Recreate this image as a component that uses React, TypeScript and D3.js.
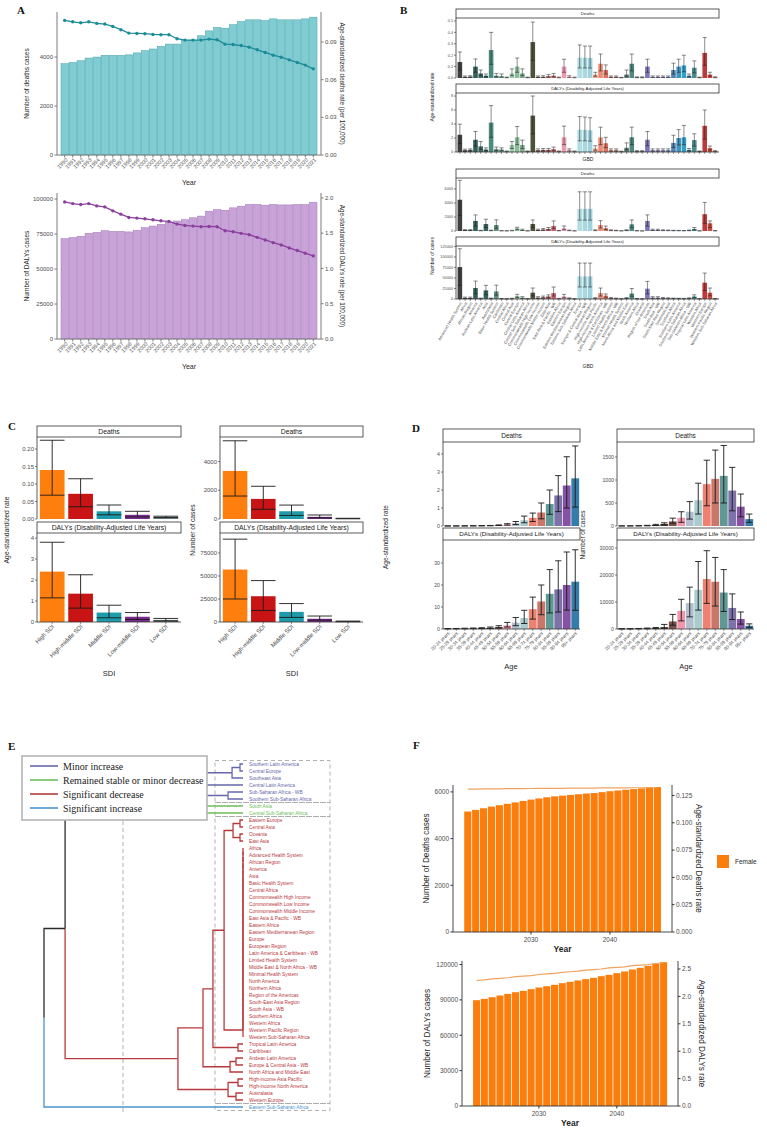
import * as d3 from "d3";

const SANS = "'Liberation Sans', Arial, Helvetica, sans-serif";
const SERIF = "'Liberation Serif', 'Times New Roman', Times, serif";
const TICK = "#4d4d4d";

// ---------- A: trends 1990-2021 ----------
const YEARS_A = [1990, 1991, 1992, 1993, 1994, 1995, 1996, 1997, 1998, 1999, 2000, 2001, 2002, 2003, 2004, 2005,
  2006, 2007, 2008, 2009, 2010, 2011, 2012, 2013, 2014, 2015, 2016, 2017, 2018, 2019, 2020, 2021];
const DEATHS_A = [3730, 3780, 3850, 3960, 4000, 4070, 4070, 4070, 4090, 4170, 4260, 4330, 4440, 4530, 4530, 4670,
  4690, 4870, 5070, 5210, 5180, 5320, 5450, 5520, 5520, 5490, 5560, 5520, 5520, 5520, 5560, 5630];
const DEATH_RATE_A = [0.1072, 0.1061, 0.1053, 0.1061, 0.1048, 0.1043, 0.1024, 0.0998, 0.0971, 0.0968, 0.0966, 0.096,
  0.0958, 0.0958, 0.0926, 0.0915, 0.0915, 0.0915, 0.0923, 0.0918, 0.0883, 0.088, 0.0872, 0.0859, 0.0838, 0.0817,
  0.0795, 0.0779, 0.0758, 0.0737, 0.0716, 0.0686];
const DALYS_A = [71700, 72500, 73400, 75500, 76200, 77400, 76900, 76900, 76500, 77600, 79500, 80700, 81900, 83500,
  84300, 85200, 86600, 87800, 91300, 92500, 92000, 93700, 94900, 96100, 96100, 95600, 96100, 95800, 95800, 96100,
  96100, 97700];
const DALY_RATE_A = [1.944, 1.92, 1.906, 1.92, 1.887, 1.873, 1.817, 1.77, 1.723, 1.714, 1.704, 1.69, 1.676, 1.667,
  1.629, 1.61, 1.601, 1.592, 1.596, 1.592, 1.535, 1.521, 1.498, 1.479, 1.441, 1.404, 1.366, 1.333, 1.291, 1.254,
  1.216, 1.178];

// ---------- B: by GBD region ----------
const B_REGIONS = ["Advanced Health System", "Africa", "African Region", "America", "Andean Latin America", "Asia",
  "Australasia", "Basic Health System", "Caribbean", "Central Africa", "Central Asia", "Central Europe",
  "Central Latin America", "Central Sub-Saharan Africa", "Commonwealth High Income", "Commonwealth Low Income",
  "Commonwealth Middle Income", "East Asia", "East Asia & Pacific - WB", "Eastern Africa", "Eastern Europe",
  "Eastern Mediterranean Region", "Eastern Sub-Saharan Africa", "Europe", "Europe & Central Asia - WB",
  "European Region", "High-income Asia Pacific", "High-income North America", "Latin America & Caribbean - WB",
  "Limited Health System", "Middle East & North Africa - WB", "Minimal Health System", "North Africa and Middle East",
  "North America", "Northern Africa", "Oceania", "Region of the Americas", "South Asia", "South Asia - WB",
  "South-East Asia Region", "Southeast Asia", "Southern Africa", "Southern Latin America",
  "Southern Sub-Saharan Africa", "Sub-Saharan Africa - WB", "Tropical Latin America", "Western Africa",
  "Western Europe", "Western Pacific Region", "Western Sub-Saharan Africa"];
const B_COLORS = ["#2b2b2b", "#3a3a3a", "#3a4a48", "#1f4d48", "#2c5a55", "#24524c", "#3a7d72", "#4c7f70", "#5b8c7a", "#6a9a86",
  "#93c4a2", "#7fb590", "#6fa27f", "#4f5b3e", "#3a3f28", "#6b4a3a", "#8a4a4a", "#a04a4a", "#c0505a", "#d86a80",
  "#e890a8", "#e8a0b5", "#c8dde0", "#a9d9e2", "#9fd3dd", "#96cdd8", "#e89a80", "#e57f68", "#d6654f", "#c46a5a",
  "#a06a60", "#6a6a60", "#4a6e68", "#3f7a72", "#5a6a8a", "#6a68a0", "#6d66aa", "#7a70b0", "#8078b5", "#8a80ba",
  "#6a8ac0", "#3d74a8", "#2f86b5", "#1e96be", "#2a7090", "#3b7d82", "#8a3030", "#b52525", "#c23b2b", "#d04a3a"];
const B_DEATH_RATE = [0.14, 0.01, 0.012, 0.1, 0.04, 0.02, 0.245, 0.02, 0.015, 0.004,
  0.04, 0.1, 0.04, 0.004, 0.315, 0.01, 0.01, 0.015, 0.02, 0.004,
  0.1, 0.01, 0.004, 0.178, 0.178, 0.176, 0.03, 0.125, 0.07, 0.01,
  0.01, 0.003, 0.03, 0.125, 0.005, 0.005, 0.1, 0.01, 0.01, 0.01,
  0.01, 0.07, 0.1, 0.11, 0.02, 0.09, 0.004, 0.22, 0.03, 0.005];
const B_DEATH_RATE_LO = [0.07, 0.005, 0.006, 0.05, 0.02, 0.01, 0.12, 0.01, 0.008, 0.002,
  0.02, 0.05, 0.02, 0.002, 0.155, 0.005, 0.005, 0.008, 0.01, 0.002,
  0.05, 0.005, 0.002, 0.088, 0.088, 0.087, 0.015, 0.062, 0.035, 0.005,
  0.005, 0.0015, 0.015, 0.062, 0.0025, 0.0025, 0.05, 0.005, 0.005, 0.005,
  0.005, 0.035, 0.05, 0.055, 0.01, 0.045, 0.002, 0.11, 0.015, 0.0025];
const B_DEATH_RATE_HI = [0.228, 0.018, 0.02, 0.167, 0.07, 0.035, 0.4, 0.04, 0.035, 0.008,
  0.08, 0.175, 0.08, 0.008, 0.49, 0.018, 0.02, 0.03, 0.04, 0.008,
  0.165, 0.02, 0.008, 0.29, 0.28, 0.28, 0.05, 0.21, 0.115, 0.018,
  0.018, 0.006, 0.07, 0.21, 0.01, 0.01, 0.165, 0.018, 0.018, 0.018,
  0.018, 0.13, 0.165, 0.2, 0.035, 0.15, 0.008, 0.355, 0.05, 0.01];
const B_DALY_RATE = [2.46, 0.25, 0.3, 1.75, 0.8, 0.35, 4.2, 0.4, 0.35, 0.08,
  1.0, 2.1, 1.0, 0.08, 5.2, 0.25, 0.3, 0.3, 0.4, 0.08,
  2.1, 0.25, 0.08, 3.17, 3.17, 3.1, 0.5, 2.08, 1.25, 0.25,
  0.25, 0.06, 0.6, 2.1, 0.1, 0.1, 1.75, 0.25, 0.25, 0.25,
  0.25, 1.3, 2.0, 2.1, 0.3, 1.7, 0.08, 3.74, 0.55, 0.1];
const B_DALY_RATE_LO = [1.2, 0.12, 0.15, 0.85, 0.4, 0.18, 2.1, 0.2, 0.18, 0.04,
  0.5, 1.05, 0.5, 0.04, 2.6, 0.12, 0.15, 0.15, 0.2, 0.04,
  1.05, 0.12, 0.04, 1.6, 1.6, 1.55, 0.25, 1.05, 0.62, 0.12,
  0.12, 0.03, 0.3, 1.05, 0.05, 0.05, 0.88, 0.12, 0.12, 0.12,
  0.12, 0.65, 1.0, 1.05, 0.15, 0.85, 0.04, 1.85, 0.28, 0.05];
const B_DALY_RATE_HI = [3.98, 0.4, 0.45, 2.93, 1.5, 0.6, 6.63, 0.7, 0.6, 0.15,
  1.5, 3.65, 1.7, 0.15, 8.0, 0.45, 0.5, 0.5, 0.7, 0.15,
  3.7, 0.45, 0.15, 5.06, 5.0, 4.9, 0.9, 3.55, 2.1, 0.45,
  0.45, 0.12, 1.3, 3.55, 0.2, 0.2, 2.93, 0.45, 0.45, 0.45,
  0.45, 2.4, 3.2, 3.8, 0.5, 2.6, 0.15, 6.0, 0.85, 0.2];
const B_DEATH_NUM = [4460, 120, 120, 1440, 60, 1000, 70, 850, 30, 20,
  50, 380, 150, 20, 1000, 150, 200, 300, 720, 40,
  380, 80, 20, 3150, 3150, 3150, 100, 860, 400, 100,
  60, 20, 100, 950, 30, 10, 1440, 150, 150, 100,
  80, 60, 50, 40, 80, 300, 20, 2400, 1100, 30];
const B_DEATH_NUM_LO = [2200, 60, 60, 700, 30, 500, 35, 400, 15, 10,
  25, 190, 75, 10, 500, 75, 100, 150, 350, 20,
  190, 40, 10, 1550, 1550, 1550, 50, 430, 200, 50,
  30, 10, 50, 470, 15, 5, 700, 75, 75, 50,
  40, 30, 25, 20, 40, 150, 10, 1100, 500, 15];
const B_DEATH_NUM_HI = [7240, 200, 200, 2300, 100, 1680, 120, 1600, 50, 35,
  90, 530, 260, 35, 1580, 260, 350, 500, 1440, 70,
  720, 140, 35, 5600, 5600, 5600, 170, 1480, 700, 170,
  100, 35, 180, 1580, 50, 20, 2300, 260, 260, 170,
  140, 100, 90, 70, 140, 500, 35, 4080, 1440, 50];
const B_DALY_NUM = [75900, 2500, 2500, 26100, 1200, 20500, 1300, 18000, 600, 400,
  1000, 7000, 3000, 400, 15000, 3000, 4000, 6000, 14200, 800,
  6000, 1600, 400, 53800, 53800, 53800, 1800, 14200, 8000, 2000,
  1200, 400, 2000, 13000, 600, 200, 24500, 3000, 3000, 2000,
  1600, 1200, 1000, 800, 1600, 6000, 400, 38800, 15000, 600];
const B_DALY_NUM_LO = [32400, 1200, 1200, 12600, 600, 10000, 650, 9000, 300, 200,
  500, 3500, 1500, 200, 7500, 1500, 2000, 3000, 7000, 400,
  3000, 800, 200, 28500, 28500, 28500, 900, 7000, 4000, 1000,
  600, 200, 1000, 6500, 300, 100, 12000, 1500, 1500, 1000,
  800, 600, 500, 400, 800, 3000, 200, 20500, 7500, 300];
const B_DALY_NUM_HI = [119500, 4500, 4500, 42700, 2200, 32400, 2300, 33000, 1100, 700,
  1800, 11000, 5500, 700, 26100, 5500, 7000, 10000, 28500, 1500,
  11000, 2800, 700, 85400, 85400, 85400, 3200, 26100, 12000, 3500,
  2200, 700, 3500, 25000, 1100, 400, 41900, 5500, 5500, 3500,
  2800, 2200, 1800, 1500, 2800, 10000, 700, 61700, 26100, 1100];

// ---------- C: by SDI ----------
const C_SDI = ["High SDI", "High-middle SDI", "Middle SDI", "Low-middle SDI", "Low SDI"];
const C_COLORS = ["#ff7f0e", "#c81414", "#1e9baa", "#7a2c8e", "#6f8283"];
const C_DEATH_RATE = [0.14, 0.072, 0.022, 0.012, 0.006];
const C_DEATH_RATE_LO = [0.068, 0.035, 0.012, 0.006, 0.004];
const C_DEATH_RATE_HI = [0.225, 0.115, 0.04, 0.022, 0.008];
const C_DALY_RATE = [2.4, 1.35, 0.45, 0.25, 0.1];
const C_DALY_RATE_LO = [1.15, 0.66, 0.2, 0.12, 0.05];
const C_DALY_RATE_HI = [3.8, 2.25, 0.8, 0.45, 0.17];
const C_DEATH_NUM = [3350, 1400, 540, 150, 30];
const C_DEATH_NUM_LO = [1600, 680, 250, 80, 15];
const C_DEATH_NUM_HI = [5450, 2280, 970, 280, 50];
const C_DALY_NUM = [57000, 28000, 11000, 3500, 600];
const C_DALY_NUM_LO = [25000, 12500, 5000, 2000, 300];
const C_DALY_NUM_HI = [90000, 45000, 20000, 6500, 1000];

// ---------- D: by age ----------
const D_AGES = ["20-24 years", "25-29 years", "30-34 years", "35-39 years", "40-44 years", "45-49 years",
  "50-54 years", "55-59 years", "60-64 years", "65-69 years", "70-74 years", "75-79 years", "80-84 years",
  "85-89 years", "90-94 years", "95+ years"];
const D_COLORS = ["#5a5a5a", "#4a4a4a", "#3a3a3a", "#2a2a2a", "#1e1e1e", "#3b2a24", "#6b3f37", "#f08ca2",
  "#a9b8ca", "#9ec6c9", "#ec735f", "#c4685a", "#4f8d8a", "#6e64a0", "#7a3f9a", "#1f6f9e"];
const D_DEATH_RATE = [0.002, 0.003, 0.005, 0.008, 0.012, 0.02, 0.04, 0.08, 0.15, 0.32, 0.45, 0.75, 1.22, 1.7, 2.25, 2.65];
const D_DEATH_RATE_LO = [0.001, 0.002, 0.003, 0.005, 0.008, 0.012, 0.025, 0.05, 0.08, 0.18, 0.25, 0.4, 0.65, 0.8, 1.0, 1.05];
const D_DEATH_RATE_HI = [0.004, 0.005, 0.008, 0.012, 0.018, 0.03, 0.06, 0.13, 0.25, 0.55, 0.72, 1.28, 2.0, 2.8, 3.85, 4.45];
const D_DALY_RATE = [0.1, 0.15, 0.2, 0.25, 0.35, 0.5, 0.9, 1.6, 2.9, 5.0, 9.0, 12.5, 16, 18, 20, 21.5];
const D_DALY_RATE_LO = [0.05, 0.08, 0.1, 0.15, 0.2, 0.3, 0.5, 0.9, 1.5, 2.5, 4.5, 6.5, 7.3, 7.7, 8.6, 8.5];
const D_DALY_RATE_HI = [0.2, 0.25, 0.35, 0.45, 0.6, 0.9, 1.5, 3.0, 5.2, 8.5, 14.5, 20, 27, 31, 35, 36];
const D_DEATH_NUM = [1, 2, 4, 8, 20, 45, 100, 180, 310, 560, 910, 1025, 1090, 770, 420, 150];
const D_DEATH_NUM_LO = [0.5, 1, 2, 4, 10, 25, 60, 80, 150, 260, 440, 500, 500, 330, 200, 80];
const D_DEATH_NUM_HI = [3, 4, 7, 14, 35, 70, 170, 310, 530, 930, 1430, 1650, 1750, 1275, 695, 260];
const D_DALY_NUM = [50, 80, 120, 200, 300, 700, 2800, 6700, 9600, 14500, 18500, 17500, 13500, 7800, 3700, 1200];
const D_DALY_NUM_LO = [25, 40, 60, 100, 150, 300, 1400, 3000, 4500, 7000, 9500, 8500, 6500, 3500, 1800, 600];
const D_DALY_NUM_HI = [90, 140, 200, 350, 550, 1700, 5400, 11000, 15500, 25000, 29000, 26500, 22000, 13000, 6300, 1900];

// ---------- E: clustering ----------
const E_LEAVES = ["Southern Latin America", "Central Europe", "Southeast Asia", "Central Latin America",
  "Sub-Saharan Africa - WB", "Southern Sub-Saharan Africa", "South Asia", "Central Sub-Saharan Africa",
  "Eastern Europe", "Central Asia", "Oceania", "East Asia", "Africa", "Advanced Health System", "African Region",
  "America", "Asia", "Basic Health System", "Central Africa", "Commonwealth High Income", "Commonwealth Low Income",
  "Commonwealth Middle Income", "East Asia & Pacific - WB", "Eastern Africa", "Eastern Mediterranean Region",
  "Europe", "European Region", "Latin America & Caribbean - WB", "Limited Health System",
  "Middle East & North Africa - WB", "Minimal Health System", "North America", "Northern Africa",
  "Region of the Americas", "South-East Asia Region", "South Asia - WB", "Southern Africa", "Western Africa",
  "Western Pacific Region", "Western Sub-Saharan Africa", "Tropical Latin America", "Caribbean",
  "Andean Latin America", "Europe & Central Asia - WB", "North Africa and Middle East", "High-income Asia Pacific",
  "High-income North America", "Australasia", "Western Europe", "Eastern Sub-Saharan Africa"];
// 0 minor increase, 1 stable / minor decrease, 2 significant decrease, 3 significant increase
const E_GROUP = [0, 0, 0, 0, 0, 0, 1, 1, 2, 2,
  2, 2, 2, 2, 2, 2, 2, 2, 2, 2,
  2, 2, 2, 2, 2, 2, 2, 2, 2, 2,
  2, 2, 2, 2, 2, 2, 2, 2, 2, 2,
  2, 2, 2, 2, 2, 2, 2, 2, 2, 3];
const E_LEGEND = ["Minor increase", "Remained stable or minor decrease", "Significant decrease", "Significant increase"];
const E_COLORS = ["#6667ab", "#6dbe5b", "#b8393d", "#4c93cf"];

type TNode = number | { h: number; c: TNode[] };
// identical profiles merged at height 0, one after another
const E_TIED = d3.range(12, 40).slice(1).reduce<TNode>((acc, id) => ({ h: 0, c: [acc, id] }), 12);
const E_TREE: TNode = {
  h: 10,
  c: [
    {
      h: 8.94,
      c: [
        {
          h: 6.18,
          c: [
            { h: 3.67, c: [{ h: 2.66, c: [{ h: 0.55, c: [{ h: 0.15, c: [0, 1] }, 2] }, 3] }, { h: 0.75, c: [4, 5] }] },
            { h: 3.42, c: [6, 7] },
          ],
        },
        {
          h: 3.27,
          c: [
            {
              h: 2.01,
              c: [
                {
                  h: 1.51,
                  c: [
                    { h: 0.95, c: [{ h: 0.5, c: [{ h: 0.15, c: [8, 9] }, { h: 0.15, c: [10, 11] }] }, E_TIED] },
                    { h: 0.25, c: [40, 41] },
                  ],
                },
                { h: 0.65, c: [{ h: 0.35, c: [42, 43] }, 44] },
              ],
            },
            { h: 0.75, c: [{ h: 0.25, c: [45, 46] }, { h: 0.35, c: [47, 48] }] },
          ],
        },
      ],
    },
    49,
  ],
};

// ---------- F: projections ----------
const F_YEARS = [2022, 2023, 2024, 2025, 2026, 2027, 2028, 2029, 2030, 2031, 2032, 2033, 2034, 2035, 2036, 2037,
  2038, 2039, 2040, 2041, 2042, 2043, 2044, 2045, 2046];
const F_DEATHS = [5160, 5230, 5300, 5370, 5430, 5490, 5550, 5610, 5670, 5720, 5770, 5810, 5840, 5870, 5900, 5930,
  5950, 5990, 6030, 6060, 6090, 6120, 6150, 6180, 6210];
const F_DEATH_RATE = [0.1308, 0.1309, 0.131, 0.1311, 0.1311, 0.1312, 0.1313, 0.1313, 0.1314, 0.1315, 0.1315, 0.1316,
  0.1316, 0.1317, 0.1317, 0.1318, 0.1318, 0.1319, 0.1319, 0.132, 0.132, 0.1321, 0.1321, 0.1322, 0.1322];
const F_DALYS = [89750, 90880, 92300, 93740, 95100, 96540, 97650, 99100, 100500, 101600, 102750, 104200, 105300,
  106500, 107600, 108700, 110100, 111250, 112700, 114100, 115800, 117200, 118900, 120600, 122000];
const F_DALY_RATE = [2.29, 2.3, 2.32, 2.33, 2.34, 2.36, 2.37, 2.38, 2.4, 2.41, 2.42, 2.44, 2.45, 2.46, 2.48, 2.49,
  2.5, 2.52, 2.53, 2.54, 2.56, 2.57, 2.58, 2.6, 2.61];

const fInt = d3.format("d");
const f1 = d3.format(".1f");
const f2 = d3.format(".2f");
const f3 = d3.format(".3f");

function VTitle({ x, y, text, fs, rot = -90, bold = false }: { x: number; y: number; text: string; fs: number; rot?: number; bold?: boolean }) {
  return (
    <text transform={`translate(${x},${y}) rotate(${rot})`} textAnchor="middle" dominantBaseline="middle"
      fontSize={fs} fill="#1f1f1f" fontWeight={bold ? 700 : 400}>
      {text}
    </text>
  );
}

type DualProps = {
  cats: number[]; bars: number[]; rates: number[];
  left: number; right: number; top: number; bottom: number;
  lMax: number; rMax: number; lTicks: number[]; rTicks: number[]; rFmt: (v: number) => string;
  fill: string; stroke: string; lineColor: string; lTitle: string; rTitle: string;
};

function DualPanel(p: DualProps) {
  const x = d3.scaleBand<number>().domain(p.cats).range([p.left + 4, p.right - 4]).paddingInner(0.08);
  const yl = d3.scaleLinear().domain([0, p.lMax]).range([p.bottom, p.top]);
  const yr = d3.scaleLinear().domain([0, p.rMax]).range([p.bottom, p.top]);
  const cx = (c: number) => (x(c) ?? 0) + x.bandwidth() / 2;
  const path = d3.line<number>().x((_, i) => cx(p.cats[i])).y((d) => yr(d))(p.rates) ?? "";
  const mid = (p.top + p.bottom) / 2;
  const ax = "#7a7a7a";
  return (
    <g>
      {p.cats.map((c, i) => (
        <rect key={c} x={x(c)} y={yl(p.bars[i])} width={x.bandwidth()} height={p.bottom - yl(p.bars[i])}
          fill={p.fill} stroke={p.stroke} strokeWidth={0.5} />
      ))}
      <path d={path} fill="none" stroke={p.lineColor} strokeWidth={1.3} />
      {p.rates.map((r, i) => (
        <circle key={i} cx={cx(p.cats[i])} cy={yr(r)} r={1.7} fill={p.lineColor} />
      ))}
      <line x1={p.left} x2={p.left} y1={p.top} y2={p.bottom} stroke={ax} strokeWidth={1} />
      <line x1={p.right} x2={p.right} y1={p.top} y2={p.bottom} stroke={ax} strokeWidth={1} />
      <line x1={p.left} x2={p.right} y1={p.bottom} y2={p.bottom} stroke={ax} strokeWidth={1} />
      {p.lTicks.map((t) => (
        <g key={t}>
          <line x1={p.left - 2.5} x2={p.left} y1={yl(t)} y2={yl(t)} stroke={ax} />
          <text x={p.left - 4} y={yl(t)} dy="0.35em" textAnchor="end" fontSize={6} fill={TICK}>{t}</text>
        </g>
      ))}
      {p.rTicks.map((t) => (
        <g key={t}>
          <line x1={p.right} x2={p.right + 2.5} y1={yr(t)} y2={yr(t)} stroke={ax} />
          <text x={p.right + 4} y={yr(t)} dy="0.35em" textAnchor="start" fontSize={6} fill={TICK}>{p.rFmt(t)}</text>
        </g>
      ))}
      {p.cats.map((c) => (
        <g key={c}>
          <line x1={cx(c)} x2={cx(c)} y1={p.bottom} y2={p.bottom + 2.5} stroke={ax} />
          <text transform={`translate(${cx(c) + 2},${p.bottom + 4}) rotate(-45)`} textAnchor="end" dy="0.35em"
            fontSize={5.5} fill={TICK}>{c}</text>
        </g>
      ))}
      <text x={(p.left + p.right) / 2} y={p.bottom + 30} textAnchor="middle" fontSize={7} fill="#1f1f1f">Year</text>
      <VTitle x={p.left - 30} y={mid} text={p.lTitle} fs={6.5} />
      <VTitle x={p.right + 21} y={mid} text={p.rTitle} fs={6.3} rot={90} />
    </g>
  );
}

type FacetProps = {
  cats: string[]; val: number[]; lo: number[]; hi: number[]; colors: string[];
  left: number; right: number; top: number; stripH: number; bottom: number;
  max: number; ticks: number[]; fmt: (v: number) => string;
  strip: string; fs: number; stripFs: number;
  padIn: number; padOut: number; cap: number; ew: number; opacity?: number;
  xAxis?: boolean; labelAngle?: number; labelFs?: number;
};

function Facet(p: FacetProps) {
  const plotTop = p.top + p.stripH;
  const x = d3.scaleBand<string>().domain(p.cats).range([p.left, p.right]).paddingInner(p.padIn).paddingOuter(p.padOut);
  const y = d3.scaleLinear().domain([0, p.max]).range([p.bottom, plotTop]);
  const bw = x.bandwidth();
  const ax = "#333";
  return (
    <g>
      <rect x={p.left} y={p.top} width={p.right - p.left} height={p.stripH} fill="#fff" stroke="#333" strokeWidth={0.8} />
      <text x={(p.left + p.right) / 2} y={p.top + p.stripH / 2} dy="0.35em" textAnchor="middle" fontSize={p.stripFs}
        fill="#1a1a1a">{p.strip}</text>
      {p.cats.map((c, i) => {
        const x0 = x(c) ?? 0;
        const cx = x0 + bw / 2;
        const cw = (bw * p.cap) / 2;
        const yl = y(p.lo[i]);
        const yh = y(p.hi[i]);
        return (
          <g key={c}>
            <rect x={x0} y={y(p.val[i])} width={bw} height={Math.max(0, p.bottom - y(p.val[i]))} fill={p.colors[i]}
              fillOpacity={p.opacity ?? 1} />
            <path d={`M${cx},${yl}V${yh}M${cx - cw},${yh}H${cx + cw}M${cx - cw},${yl}H${cx + cw}`} stroke="#1a1a1a"
              strokeWidth={p.ew} fill="none" />
          </g>
        );
      })}
      <line x1={p.left} x2={p.left} y1={plotTop} y2={p.bottom} stroke={ax} strokeWidth={0.8} />
      {p.ticks.map((t) => (
        <g key={t}>
          <line x1={p.left - 2} x2={p.left} y1={y(t)} y2={y(t)} stroke={ax} strokeWidth={0.6} />
          <text x={p.left - 3} y={y(t)} dy="0.35em" textAnchor="end" fontSize={p.fs} fill={TICK}>{p.fmt(t)}</text>
        </g>
      ))}
      {p.xAxis && (
        <g>
          <line x1={p.left} x2={p.right} y1={p.bottom} y2={p.bottom} stroke={ax} strokeWidth={0.8} />
          {p.cats.map((c) => {
            const cx = (x(c) ?? 0) + bw / 2;
            return (
              <g key={c}>
                <line x1={cx} x2={cx} y1={p.bottom} y2={p.bottom + 2} stroke={ax} strokeWidth={0.5} />
                {p.labelFs ? (
                  <text transform={`translate(${cx + 1},${p.bottom + 3.5}) rotate(${-(p.labelAngle ?? 45)})`}
                    textAnchor="end" dy="0.35em" fontSize={p.labelFs} fill={TICK}>{c}</text>
                ) : null}
              </g>
            );
          })}
        </g>
      )}
    </g>
  );
}

type FProps = {
  years: number[]; bars: number[]; rates: number[];
  left: number; right: number; top: number; bottom: number;
  lMax: number; rMax: number; lTicks: number[]; rTicks: number[]; rFmt: (v: number) => string;
  lTitle: string; rTitle: string; lTitleX: number; rTitleX: number;
};

function ForecastPanel(p: FProps) {
  const x = d3.scaleLinear().domain([2020.13, 2047.85]).range([p.left, p.right]);
  const yl = d3.scaleLinear().domain([0, p.lMax]).range([p.bottom, p.top]);
  const yr = d3.scaleLinear().domain([0, p.rMax]).range([p.bottom, p.top]);
  const bw = (x(1) - x(0)) * 0.9;
  const path = d3.line<number>().x((_, i) => x(p.years[i])).y((d) => yr(d))(p.rates) ?? "";
  const mid = (p.top + p.bottom) / 2;
  const ax = "#333";
  return (
    <g>
      {p.years.map((yv, i) => (
        <rect key={yv} x={x(yv) - bw / 2} y={yl(p.bars[i])} width={bw} height={p.bottom - yl(p.bars[i])} fill="#fb7d0c" />
      ))}
      <path d={path} fill="none" stroke="#eda35e" strokeWidth={1.2} />
      <line x1={p.left} x2={p.left} y1={p.top} y2={p.bottom} stroke={ax} strokeWidth={0.9} />
      <line x1={p.right} x2={p.right} y1={p.top} y2={p.bottom} stroke={ax} strokeWidth={0.9} />
      <line x1={p.left} x2={p.right} y1={p.bottom} y2={p.bottom} stroke={ax} strokeWidth={0.9} />
      {p.lTicks.map((t) => (
        <g key={t}>
          <line x1={p.left - 2.5} x2={p.left} y1={yl(t)} y2={yl(t)} stroke={ax} />
          <text x={p.left - 4} y={yl(t)} dy="0.35em" textAnchor="end" fontSize={6.5} fill={TICK}>{t}</text>
        </g>
      ))}
      {p.rTicks.map((t) => (
        <g key={t}>
          <line x1={p.right} x2={p.right + 2.5} y1={yr(t)} y2={yr(t)} stroke={ax} />
          <text x={p.right + 4} y={yr(t)} dy="0.35em" textAnchor="start" fontSize={6.5} fill={TICK}>{p.rFmt(t)}</text>
        </g>
      ))}
      {[2030, 2040].map((t) => (
        <g key={t}>
          <line x1={x(t)} x2={x(t)} y1={p.bottom} y2={p.bottom + 2.5} stroke={ax} />
          <text x={x(t)} y={p.bottom + 10} textAnchor="middle" fontSize={6.5} fill={TICK}>{t}</text>
        </g>
      ))}
      <text x={(p.left + p.right) / 2} y={p.bottom + 20} textAnchor="middle" fontSize={8.5} fontWeight={700} fill="#1f1f1f">Year</text>
      <VTitle x={p.lTitleX} y={mid} text={p.lTitle} fs={8.2} />
      <VTitle x={p.rTitleX} y={mid} text={p.rTitle} fs={8.2} rot={90} />
    </g>
  );
}

function Dendrogram() {
  const ys = d3.scaleLinear().domain([0, E_LEAVES.length - 1]).range([764, 1107]);
  const xs = d3.scaleLinear().domain([0, 10]).range([243, 44]);
  const segs: { d: string; col: string }[] = [];
  const walk = (n: TNode): { x: number; y: number; g: number } => {
    if (typeof n === "number") return { x: xs(0), y: ys(n), g: E_GROUP[n] };
    const kids = n.c.map(walk);
    const x = xs(n.h);
    const y = (kids[0].y + kids[kids.length - 1].y) / 2;
    kids.forEach((k) => segs.push({ d: `M${x},${y}V${k.y}H${k.x}`, col: k.g >= 0 ? E_COLORS[k.g] : "#2b2b2b" }));
    const g = kids.every((k) => k.g === kids[0].g) ? kids[0].g : -1;
    return { x, y, g };
  };
  walk(E_TREE);
  const boxes = E_COLORS.map((_, g) => {
    const idx = E_GROUP.map((v, i) => (v === g ? i : -1)).filter((i) => i >= 0);
    return [ys(idx[0]) - 3.5, ys(idx[idx.length - 1]) + 3.5];
  });
  return (
    <g>
      <line x1={123} x2={123} y1={758} y2={1112} stroke="#a8a8a8" strokeWidth={0.9} strokeDasharray="4,3" />
      {boxes.map(([y0, y1], i) => (
        <rect key={i} x={215} y={y0} width={115} height={y1 - y0} fill="none" stroke="#a8a8a8" strokeWidth={0.9}
          strokeDasharray="4,3" />
      ))}
      {segs.map((s, i) => (
        <path key={i} d={s.d} fill="none" stroke={s.col} strokeWidth={1.3} />
      ))}
      {E_LEAVES.map((name, i) => (
        <text key={name} x={249} y={ys(i)} dy="0.35em" fontSize={4.8} fill={E_COLORS[E_GROUP[i]]}>{name}</text>
      ))}
      <rect x={22} y={756} width={185} height={64} fill="#fff" stroke="#b5b5b5" strokeWidth={1.6} />
      {E_LEGEND.map((lab, i) => (
        <g key={lab}>
          <line x1={30} x2={58} y1={766 + i * 14} y2={766 + i * 14} stroke={E_COLORS[i]} strokeWidth={1.6} />
          <text x={63} y={766 + i * 14} dy="0.35em" fontFamily={SERIF} fontSize={10} fill="#222">{lab}</text>
        </g>
      ))}
    </g>
  );
}

export default function App() {
  const DALY_STRIP = "DALYs (Disability-Adjusted Life Years)";
  return (
    <svg width={767} height={1133} style={{ position: "absolute", left: 0, top: 0, background: "#fff" }}
      fontFamily={SANS}>
      <rect width={767} height={1133} fill="#fff" />
      {/* panel letters */}
      {[["A", 17, 14], ["B", 400, 14], ["C", 8, 430], ["D", 412, 432], ["E", 8, 750], ["F", 413, 749]].map(([t, x, y]) => (
        <text key={t as string} x={x as number} y={y as number} fontFamily={SERIF} fontWeight={700} fontSize={11} fill="#111">{t}</text>
      ))}

      {/* A */}
      <DualPanel cats={YEARS_A} bars={DEATHS_A} rates={DEATH_RATE_A} left={57} right={321} top={12} bottom={155}
        lMax={5840} rMax={0.1139} lTicks={[0, 2000, 4000]} rTicks={[0, 0.03, 0.06, 0.09]} rFmt={f2}
        fill="#80ccd3" stroke="#4aa2ab" lineColor="#1b8c98" lTitle="Number of deaths cases"
        rTitle="Age-standardized deaths rate (per 100,000)" />
      <DualPanel cats={YEARS_A} bars={DALYS_A} rates={DALY_RATE_A} left={57} right={321} top={193} bottom={339}
        lMax={104300} rMax={2.07} lTicks={[0, 25000, 50000, 75000, 100000]} rTicks={[0, 0.5, 1, 1.5, 2]} rFmt={f1}
        fill="#c8a2d8" stroke="#a078b4" lineColor="#8a3f9e" lTitle="Number of DALYs cases"
        rTitle="Age-standardized DALYs rate (per 100,000)" />

      {/* B */}
      <Facet cats={B_REGIONS} val={B_DEATH_RATE} lo={B_DEATH_RATE_LO} hi={B_DEATH_RATE_HI} colors={B_COLORS}
        left={456} right={719} top={9} stripH={9} bottom={78} max={0.526} ticks={[0, 0.1, 0.2, 0.3, 0.4, 0.5]} fmt={f1}
        strip="Deaths" fs={3.8} stripFs={4.3} padIn={0.12} padOut={0.3} cap={0.9} ew={0.5} opacity={0.9} />
      <Facet cats={B_REGIONS} val={B_DALY_RATE} lo={B_DALY_RATE_LO} hi={B_DALY_RATE_HI} colors={B_COLORS}
        left={456} right={719} top={84} stripH={9} bottom={152} max={8.43} ticks={[0, 2, 4, 6, 8]} fmt={fInt}
        strip={DALY_STRIP} fs={3.8} stripFs={4.3} padIn={0.12} padOut={0.3} cap={0.9} ew={0.5} opacity={0.9} xAxis />
      <text x={588} y={161} textAnchor="middle" fontSize={5} fill="#1f1f1f">GBD</text>
      <Facet cats={B_REGIONS} val={B_DEATH_NUM} lo={B_DEATH_NUM_LO} hi={B_DEATH_NUM_HI} colors={B_COLORS}
        left={456} right={719} top={169} stripH={9} bottom={231} max={7571} ticks={[0, 2000, 4000, 6000]} fmt={fInt}
        strip="Deaths" fs={3.8} stripFs={4.3} padIn={0.12} padOut={0.3} cap={0.9} ew={0.5} opacity={0.9} />
      <Facet cats={B_REGIONS} val={B_DALY_NUM} lo={B_DALY_NUM_LO} hi={B_DALY_NUM_HI} colors={B_COLORS}
        left={456} right={719} top={237} stripH={9} bottom={299} max={126000}
        ticks={[0, 25000, 50000, 75000, 100000, 125000]} fmt={fInt}
        strip={DALY_STRIP} fs={3.8} stripFs={4.3} padIn={0.12} padOut={0.3} cap={0.9} ew={0.5} opacity={0.9}
        xAxis labelAngle={60} labelFs={3.9} />
      <text x={588} y={368} textAnchor="middle" fontSize={5} fill="#1f1f1f">GBD</text>
      <VTitle x={433} y={97} text="Age-standardized rate" fs={5} />
      <VTitle x={433} y={256} text="Number of cases" fs={5} />

      {/* C */}
      <Facet cats={C_SDI} val={C_DEATH_RATE} lo={C_DEATH_RATE_LO} hi={C_DEATH_RATE_HI} colors={C_COLORS}
        left={37} right={181} top={426} stripH={11} bottom={519} max={0.2343} ticks={[0, 0.05, 0.1, 0.15, 0.2]} fmt={f2}
        strip="Deaths" fs={6} stripFs={6.8} padIn={0.13} padOut={0.1} cap={1} ew={0.9} />
      <Facet cats={C_SDI} val={C_DALY_RATE} lo={C_DALY_RATE_LO} hi={C_DALY_RATE_HI} colors={C_COLORS}
        left={37} right={181} top={522} stripH={11} bottom={622} max={4.24} ticks={[0, 1, 2, 3, 4]} fmt={fInt}
        strip={DALY_STRIP} fs={6} stripFs={6.8} padIn={0.13} padOut={0.1} cap={1} ew={0.9} xAxis labelAngle={45} labelFs={6} />
      <Facet cats={C_SDI} val={C_DEATH_NUM} lo={C_DEATH_NUM_LO} hi={C_DEATH_NUM_HI} colors={C_COLORS}
        left={220} right={363} top={426} stripH={11} bottom={519} max={5714} ticks={[0, 2000, 4000]} fmt={fInt}
        strip="Deaths" fs={6} stripFs={6.8} padIn={0.13} padOut={0.1} cap={1} ew={0.9} />
      <Facet cats={C_SDI} val={C_DALY_NUM} lo={C_DALY_NUM_LO} hi={C_DALY_NUM_HI} colors={C_COLORS}
        left={220} right={363} top={522} stripH={11} bottom={622} max={96700} ticks={[0, 25000, 50000, 75000]} fmt={fInt}
        strip={DALY_STRIP} fs={6} stripFs={6.8} padIn={0.13} padOut={0.1} cap={1} ew={0.9} xAxis labelAngle={45} labelFs={6} />
      <text x={109} y={676} textAnchor="middle" fontSize={7.5} fill="#1f1f1f">SDI</text>
      <text x={292} y={676} textAnchor="middle" fontSize={7.5} fill="#1f1f1f">SDI</text>
      <VTitle x={7} y={530} text="Age-standardized rate" fs={6.8} />
      <VTitle x={193} y={530} text="Number of cases" fs={6.8} />

      {/* D */}
      <Facet cats={D_AGES} val={D_DEATH_RATE} lo={D_DEATH_RATE_LO} hi={D_DEATH_RATE_HI} colors={D_COLORS}
        left={443} right={580} top={429} stripH={13} bottom={526} max={4.67} ticks={[0, 1, 2, 3, 4]} fmt={fInt}
        strip="Deaths" fs={5.2} stripFs={6.5} padIn={0.08} padOut={0.1} cap={0.8} ew={0.9} opacity={0.9} />
      <Facet cats={D_AGES} val={D_DALY_RATE} lo={D_DALY_RATE_LO} hi={D_DALY_RATE_HI} colors={D_COLORS}
        left={443} right={580} top={528} stripH={12} bottom={629} max={40.45} ticks={[0, 10, 20, 30]} fmt={fInt}
        strip={DALY_STRIP} fs={5.2} stripFs={6.2} padIn={0.08} padOut={0.1} cap={0.8} ew={0.9} opacity={0.9}
        xAxis labelAngle={45} labelFs={4.6} />
      <Facet cats={D_AGES} val={D_DEATH_NUM} lo={D_DEATH_NUM_LO} hi={D_DEATH_NUM_HI} colors={D_COLORS}
        left={617} right={754} top={429} stripH={13} bottom={526} max={1826} ticks={[0, 500, 1000, 1500]} fmt={fInt}
        strip="Deaths" fs={5.2} stripFs={6.5} padIn={0.08} padOut={0.1} cap={0.8} ew={0.9} opacity={0.9} />
      <Facet cats={D_AGES} val={D_DALY_NUM} lo={D_DALY_NUM_LO} hi={D_DALY_NUM_HI} colors={D_COLORS}
        left={617} right={754} top={528} stripH={12} bottom={629} max={32963} ticks={[0, 10000, 20000, 30000]} fmt={fInt}
        strip={DALY_STRIP} fs={5.2} stripFs={6.2} padIn={0.08} padOut={0.1} cap={0.8} ew={0.9} opacity={0.9}
        xAxis labelAngle={45} labelFs={4.6} />
      <text x={511} y={669} textAnchor="middle" fontSize={7.5} fill="#1f1f1f">Age</text>
      <text x={686} y={669} textAnchor="middle" fontSize={7.5} fill="#1f1f1f">Age</text>
      <VTitle x={386} y={537} text="Age-standardized rate" fs={6.5} />
      <VTitle x={583} y={535} text="Number of cases" fs={6.5} />

      {/* E */}
      <Dendrogram />

      {/* F */}
      <ForecastPanel years={F_YEARS} bars={F_DEATHS} rates={F_DEATH_RATE} left={453} right={672} top={785} bottom={932}
        lMax={6296} rMax={0.1346} lTicks={[0, 2000, 4000, 6000]} rTicks={[0, 0.025, 0.05, 0.075, 0.1, 0.125]} rFmt={f3}
        lTitle="Number of Deaths cases" rTitle="Age-standardized Deaths rate" lTitleX={427} rTitleX={698} />
      <ForecastPanel years={F_YEARS} bars={F_DALYS} rates={F_DALY_RATE} left={462} right={678} top={961} bottom={1106}
        lMax={123000} rMax={2.646} lTicks={[0, 30000, 60000, 90000, 120000]} rTicks={[0, 0.5, 1, 1.5, 2, 2.5]} rFmt={f1}
        lTitle="Number of DALYs cases" rTitle="Age-standardized DALYs rate" lTitleX={428} rTitleX={701} />
      <rect x={717} y={855} width={12} height={13} fill="#fb7d0c" />
      <text x={735} y={861.5} dy="0.35em" fontSize={6.5} fill="#1f1f1f">Female</text>
    </svg>
  );
}
